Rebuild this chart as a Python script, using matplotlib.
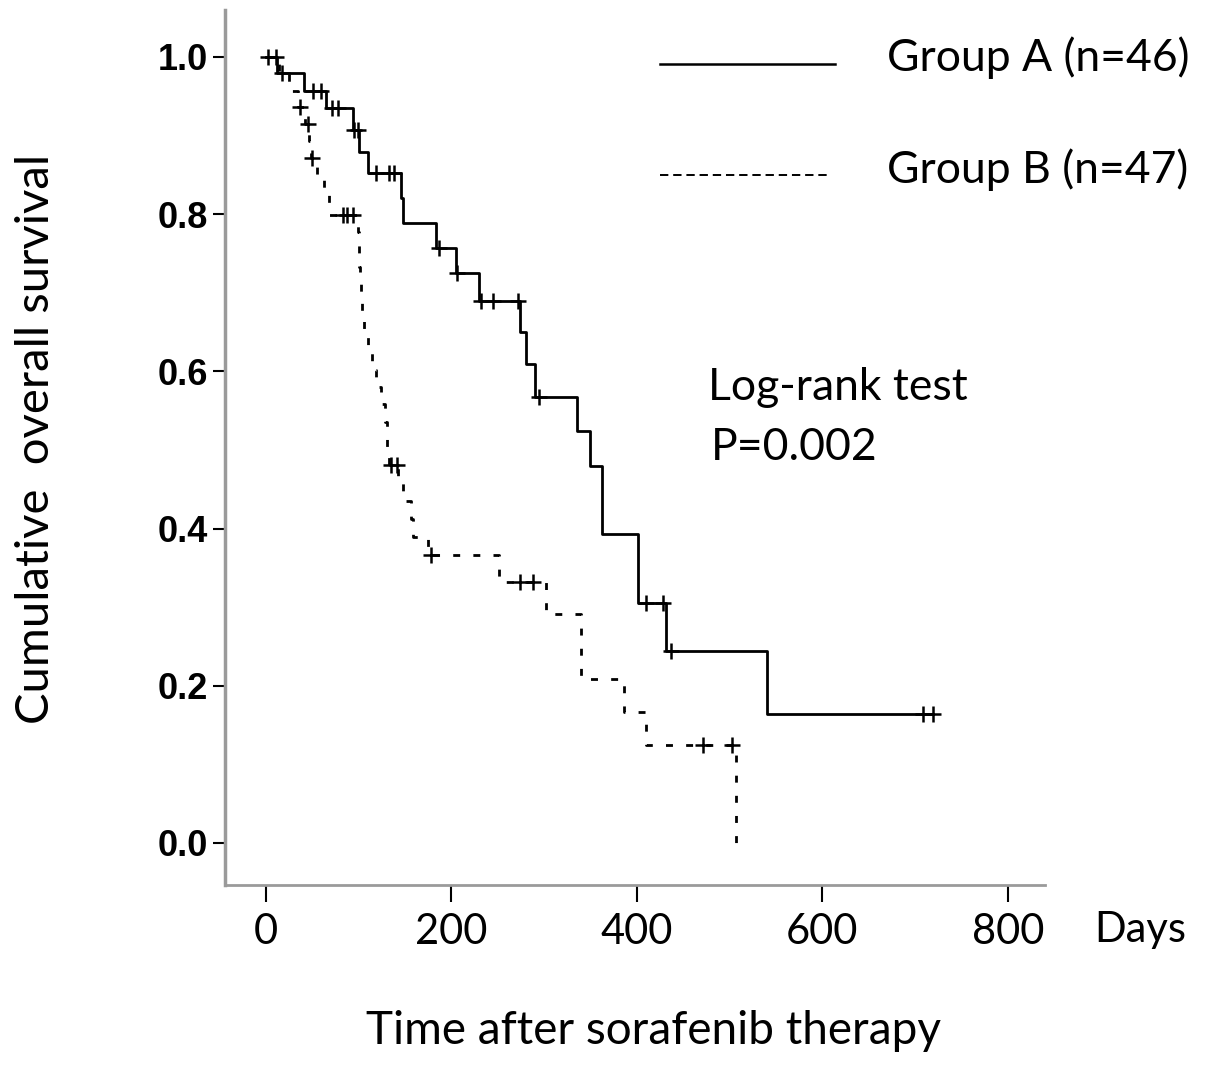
import numpy as np
import matplotlib
matplotlib.use("Agg")
import matplotlib.pyplot as plt


# ---------------------------------------------------
# Data
# ---------------------------------------------------

# Group A: event times (days) and survival after each event
times_a = [12, 41, 65, 94, 100, 110, 146, 148, 183, 205, 230,
           274, 281, 290, 335, 350, 362, 401, 431, 540]
surv_a = [0.979, 0.957, 0.935, 0.907, 0.879, 0.852, 0.820, 0.789,
          0.757, 0.725, 0.690, 0.650, 0.609, 0.567, 0.524, 0.480,
          0.393, 0.305, 0.244, 0.164]
censor_a = [2, 11, 17, 51, 60, 71, 78, 95, 99, 119, 133, 138, 187,
            206, 232, 245, 272, 294, 410, 428, 437, 709, 719]
end_a = 719

# Group B
times_b = [14, 25, 35, 42, 47, 49, 55, 63, 68, 99, 100, 101, 102,
           103, 104, 106, 110, 115, 119, 124, 129, 131, 133, 143,
           148, 157, 159, 175, 251, 302, 340, 386, 410, 507]
surv_b = [0.979, 0.957, 0.936, 0.915, 0.893, 0.871, 0.848, 0.826,
          0.799, 0.777, 0.755, 0.733, 0.711, 0.689, 0.667, 0.646,
          0.624, 0.602, 0.580, 0.558, 0.536, 0.503, 0.481, 0.458,
          0.435, 0.412, 0.389, 0.366, 0.332, 0.291, 0.209, 0.167,
          0.125, 0.0]
censor_b = [37, 45, 50, 83, 88, 94, 135, 141, 178, 274, 288, 471, 503]

labels = ["Group A (n=46)", "Group B (n=47)"]
x_ticks = [0, 200, 400, 600, 800]
y_ticks = [0.0, 0.2, 0.4, 0.6, 0.8, 1.0]


def surv_at(times, surv, t):
    # survival value at time t for a post-step curve
    idx = np.searchsorted(times, t, side="right") - 1
    vals = np.concatenate([[1.0], surv])
    return vals[idx + 1]


# ---------------------------------------------------
# Plot
# ---------------------------------------------------

plt.rcParams["lines.scale_dashes"] = False

fig = plt.figure(figsize=(12.05, 10.71), dpi=100)
ax = fig.add_axes([0.1867, 0.1737, 0.6805, 0.817])

xa = [0] + times_a + [end_a]
ya = [1.0] + surv_a + [surv_a[-1]]
ax.step(xa, ya, where="post", color="black", linewidth=2.0)

xb = [0] + times_b
yb = [1.0] + surv_b
ax.step(xb, yb, where="post", color="black", linewidth=2.0,
        linestyle=(0, (5, 9.5)))

ca = np.array(censor_a)
ax.plot(ca, surv_at(np.array(times_a), np.array(surv_a), ca),
        linestyle="none", marker="+", markersize=11,
        markeredgewidth=1.8, color="black")

cb = np.array(censor_b)
ax.plot(cb, surv_at(np.array(times_b), np.array(surv_b), cb),
        linestyle="none", marker="+", markersize=11,
        markeredgewidth=1.8, color="black")

ax.set_xlim(-44, 840)
ax.set_ylim(-0.0534, 1.0598)

ax.set_xticks(x_ticks)
ax.set_xticklabels([str(t) for t in x_ticks], fontfamily="Lato",
                   fontsize=30)
ax.set_yticks(y_ticks)
ax.set_yticklabels([f"{t:.1f}" for t in y_ticks],
                   fontfamily="Liberation Sans", fontweight="bold",
                   fontsize=26)

ax.tick_params(axis="y", direction="out", length=9, width=1.5,
               pad=3, color="black")
ax.tick_params(axis="x", direction="out", length=12, width=1.5,
               pad=8, color="black")

for side in ["top", "right"]:
    ax.spines[side].set_visible(False)
ax.spines["left"].set_color("#9a9a9a")
ax.spines["left"].set_linewidth(2.5)
ax.spines["bottom"].set_color("#9a9a9a")
ax.spines["bottom"].set_linewidth(2.0)

ax.set_xlabel("Time after sorafenib therapy", fontfamily="Lato",
              fontsize=33)
ax.xaxis.set_label_coords(0.522, -0.143)
ax.set_ylabel("Cumulative  overall survival", fontfamily="Lato",
              fontsize=34)
ax.yaxis.set_label_coords(-0.205, 0.51)

ax.text(1.06, -0.030, "Days", transform=ax.transAxes,
        fontfamily="Lato", fontsize=30, ha="left", va="top")

# legend drawn by hand, as in the original figure
ax.plot([0.530, 0.744], [0.938, 0.938], transform=ax.transAxes,
        color="black", linewidth=1.8, clip_on=False)
ax.plot([0.530, 0.738], [0.811, 0.811], transform=ax.transAxes,
        color="black", linewidth=1.4, linestyle=(0, (6, 3.5)),
        clip_on=False)
ax.text(0.807, 0.945, labels[0], transform=ax.transAxes,
        fontfamily="Lato", fontsize=32, ha="left", va="center")
ax.text(0.807, 0.818, labels[1], transform=ax.transAxes,
        fontfamily="Lato", fontsize=32, ha="left", va="center")

ax.text(0.589, 0.568, "Log-rank test", transform=ax.transAxes,
        fontfamily="Lato", fontsize=32, ha="left", va="center")
ax.text(0.592, 0.500, "P=0.002", transform=ax.transAxes,
        fontfamily="Lato", fontsize=32, ha="left", va="center")

fig.savefig("out.png", dpi=100)
